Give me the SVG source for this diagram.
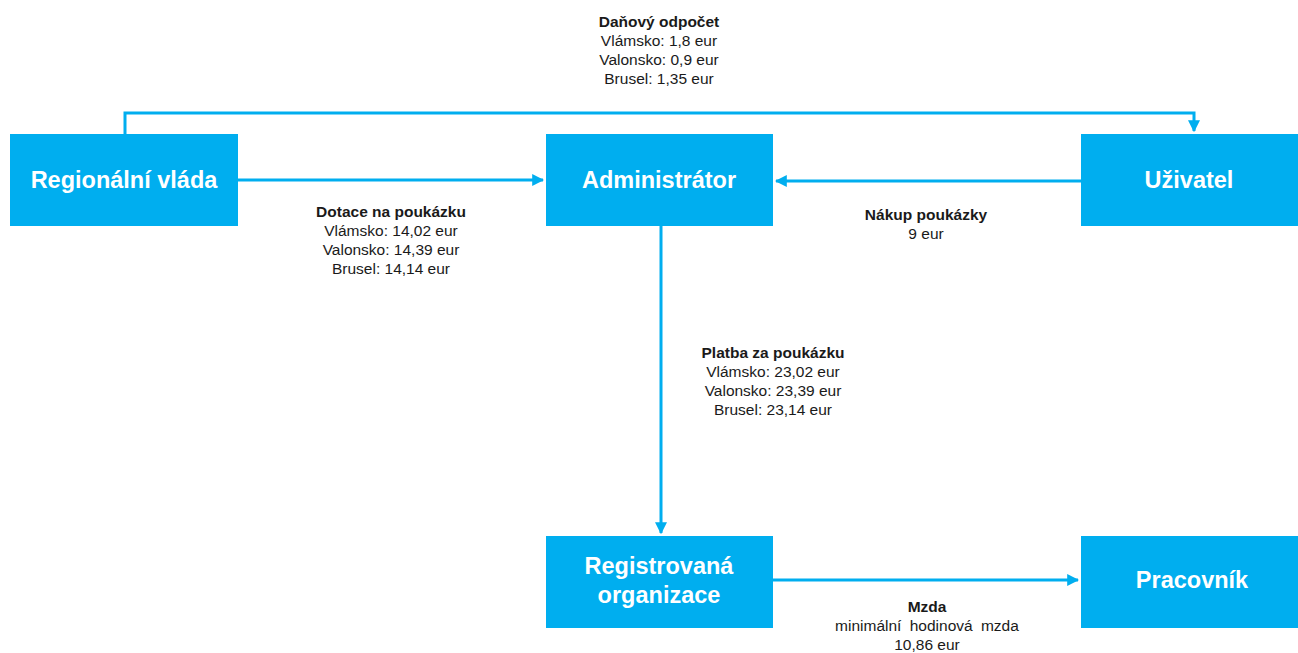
<svg xmlns="http://www.w3.org/2000/svg" width="1298" height="653" viewBox="0 0 1298 653">
<style>
.box{fill:#00AEEF}
.nt{font-family:"Liberation Sans",Arial,sans-serif;font-weight:bold;font-size:23.5px;fill:#fff;text-anchor:middle}
.lb{font-family:"Liberation Sans",Arial,sans-serif;font-size:15.5px;fill:#1a1a1a;text-anchor:middle}
.lb .b{font-weight:bold}
.ln{stroke:#00AEEF;stroke-width:3;fill:none}
</style>
<defs>
<marker id="ah" viewBox="0 0 10 10" refX="9" refY="5" markerWidth="4" markerHeight="4" orient="auto" markerUnits="strokeWidth">
<path d="M0,0 L10,5 L0,10 Z" fill="#00AEEF"/>
</marker>
</defs>
<rect width="1298" height="653" fill="#fff"/>
<g id="connectors">
<path class="ln" d="M125,134 V113 H1194 V131" marker-end="url(#ah)"/>
<path class="ln" d="M238,180 H543" marker-end="url(#ah)"/>
<path class="ln" d="M1081,181 H776" marker-end="url(#ah)"/>
<path class="ln" d="M661,226 V533" marker-end="url(#ah)"/>
<path class="ln" d="M773,580 H1078" marker-end="url(#ah)"/>
</g>
<g id="labels">
<text class="lb" x="659" y="27"><tspan class="b">Daňový odpočet</tspan><tspan x="659" dy="19">Vlámsko: 1,8 eur</tspan><tspan x="659" dy="19">Valonsko: 0,9 eur</tspan><tspan x="659" dy="19">Brusel: 1,35 eur</tspan></text>
<text class="lb" x="391" y="217"><tspan class="b">Dotace na poukázku</tspan><tspan x="391" dy="19">Vlámsko: 14,02 eur</tspan><tspan x="391" dy="19">Valonsko: 14,39 eur</tspan><tspan x="391" dy="19">Brusel: 14,14 eur</tspan></text>
<text class="lb" x="926" y="220"><tspan class="b">Nákup poukázky</tspan><tspan x="926" dy="19">9 eur</tspan></text>
<text class="lb" x="773" y="358"><tspan class="b">Platba za poukázku</tspan><tspan x="773" dy="19">Vlámsko: 23,02 eur</tspan><tspan x="773" dy="19">Valonsko: 23,39 eur</tspan><tspan x="773" dy="19">Brusel: 23,14 eur</tspan></text>
<text class="lb" x="927" y="612"><tspan class="b">Mzda</tspan><tspan x="927" dy="19" word-spacing="4">minimální hodinová mzda</tspan><tspan x="927" dy="19">10,86 eur</tspan></text>
</g>
<g id="regionalni-vlada"><rect class="box" x="10" y="134" width="228" height="92"/><text class="nt" x="124" y="188">Regionální vláda</text></g>
<g id="administrator"><rect class="box" x="546" y="134" width="227" height="92"/><text class="nt" x="659" y="188">Administrátor</text></g>
<g id="uzivatel"><rect class="box" x="1081" y="134" width="217" height="92"/><text class="nt" x="1189" y="188">Uživatel</text></g>
<g id="registrovana-organizace"><rect class="box" x="546" y="536" width="227" height="92"/><text class="nt" x="659" y="574">Registrovaná</text><text class="nt" x="659" y="603">organizace</text></g>
<g id="pracovnik"><rect class="box" x="1081" y="536" width="217" height="92"/><text class="nt" x="1192" y="588">Pracovník</text></g>
</svg>
